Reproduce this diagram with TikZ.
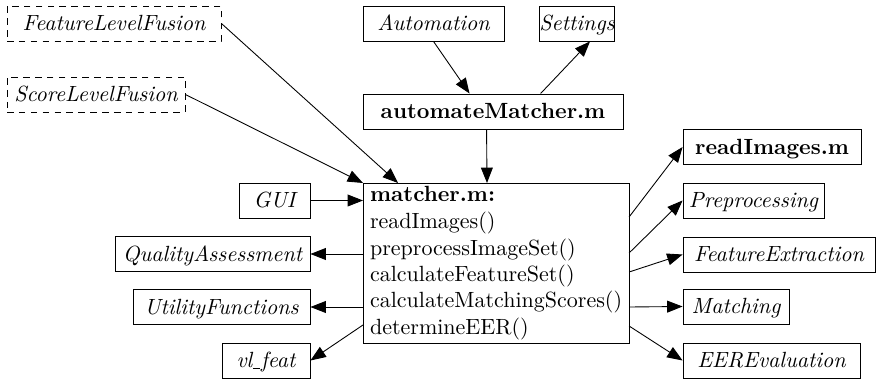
\documentclass[tikz,border=0pt]{standalone}
\usetikzlibrary{arrows.meta,calc}
\newcommand\pxu{0.4545pt}
\begin{document}
\begin{tikzpicture}[x=0.4545pt,y=-0.4545pt,
 box/.style={draw, line width=0.4pt, inner sep=0pt, minimum height=35*\pxu, text height=6.8pt, text depth=0pt, font=\itshape},
 bbox/.style={box, font=\bfseries},
 dbox/.style={box, dash pattern=on 3pt off 2.4pt},
 arr/.style={-{Triangle[length=7pt,width=5.4pt]}, line width=0.4pt}]
\useasboundingbox (0,0) rectangle (876,380);
\node[dbox, minimum width=214*\pxu] (flf) at (114,23.5) {FeatureLevelFusion};
\node[dbox, minimum width=178*\pxu] (slf) at (96,94.5) {ScoreLevelFusion};
\node[box, minimum width=141*\pxu] (auto) at (433.5,23.5) {Automation};
\node[box, minimum width=72*\pxu] (set) at (577,23.5) {Settings};
\node[bbox, minimum width=260*\pxu] (am) at (493,111.5) {automateMatcher.m};
\node[draw, line width=0.4pt, anchor=north west, align=left, inner xsep=3.2pt, inner ysep=1.5pt, outer sep=0pt] (matcher) at (363,183)
 {\textbf{matcher.m:}\\[0.3pt]readImages()\\preprocessImageSet()\\calculateFeatureSet()\\calculateMatchingScores()\\determineEER()};
\node[box, minimum width=71*\pxu] (gui) at (274.5,200.5) {GUI};
\node[box, minimum width=195*\pxu] (qa) at (212.5,254) {QualityAssessment};
\node[box, minimum width=177*\pxu] (uf) at (221.5,307) {UtilityFunctions};
\node[box, minimum width=88*\pxu] (vl) at (266,360.5) {vl\kern0.3pt\rule[-0.4pt]{3.4pt}{0.4pt}\kern0.3pt feat};
\node[bbox, minimum width=178*\pxu] (ri) at (772,147) {readImages.m};
\node[box, minimum width=141*\pxu] (pp) at (753.5,200.5) {Preprocessing};
\node[box, minimum width=192*\pxu] (fe) at (779,254.5) {FeatureExtraction};
\node[box, minimum width=106*\pxu] (ma) at (736,306.5) {Matching};
\node[box, minimum width=177*\pxu] (eer) at (771.5,360.5) {EEREvaluation};
% connectors
\draw[arr] (flf.east) -- ($(matcher.north west)+(35,0)$);
\draw[arr] (slf.east) -- (matcher.north west);
\draw[arr] (auto.south) -- ($(am.north west)+(107,0)$);
\draw[arr] ($(am.north west)+(178,0)$) -- ($(set.south)+(13,0)$);
\draw[arr] ($(am.south west)+(124,0)$) -- ($(matcher.north west)+(124,0)$);
\draw[arr] (gui.east) -- (gui.east -| matcher.west);
\draw[arr] ($(matcher.north west)+(0,71)$) -- (qa.east);
\draw[arr] ($(matcher.north west)+(0,124)$) -- (uf.east);
\draw[arr] ($(matcher.north west)+(0,142)$) -- (vl.east);
\draw[arr] ($(matcher.north east)+(0,34)$) -- (ri.west);
\draw[arr] ($(matcher.north east)+(0,70)$) -- (pp.west);
\draw[arr] ($(matcher.north east)+(0,89)$) -- (fe.west);
\draw[arr] ($(matcher.north east)+(0,124)$) -- (ma.west);
\draw[arr] ($(matcher.north east)+(0,143)$) -- (eer.west);
\end{tikzpicture}
\end{document}
